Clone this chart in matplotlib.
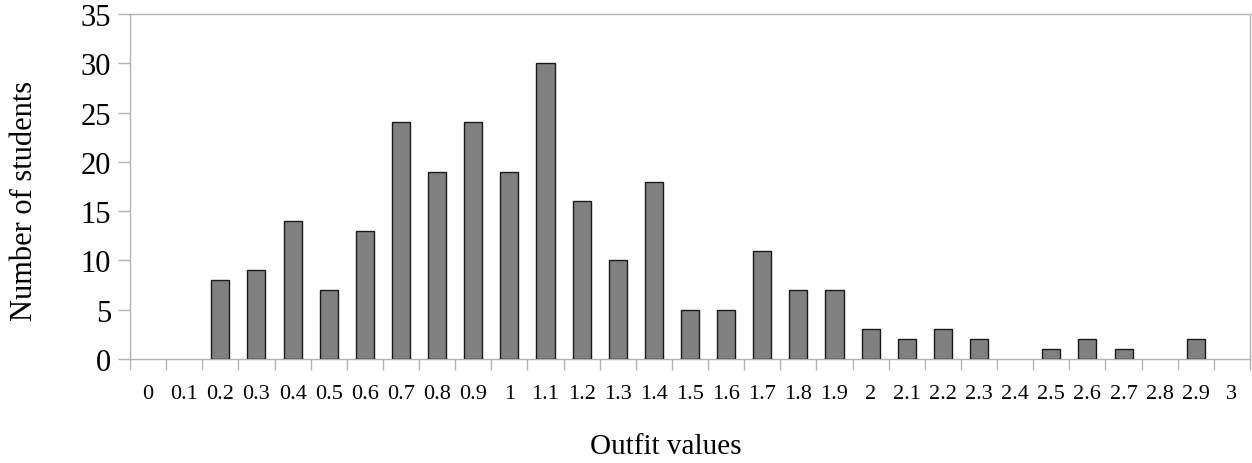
import matplotlib
matplotlib.use("Agg")
import matplotlib.pyplot as plt
import numpy as np

categories = ["0", "0.1", "0.2", "0.3", "0.4", "0.5", "0.6", "0.7", "0.8", "0.9",
              "1", "1.1", "1.2", "1.3", "1.4", "1.5", "1.6", "1.7", "1.8", "1.9",
              "2", "2.1", "2.2", "2.3", "2.4", "2.5", "2.6", "2.7", "2.8", "2.9", "3"]
counts = [0, 0, 8, 9, 14, 7, 13, 24, 19, 24,
          19, 30, 16, 10, 18, 5, 5, 11, 7, 7,
          3, 2, 3, 2, 0, 1, 2, 1, 0, 2, 0]
y_ticks = [0, 5, 10, 15, 20, 25, 30, 35]

plt.rcParams['font.family'] = ['Liberation Serif', 'DejaVu Serif']

W, H = 1252, 464
fig = plt.figure(figsize=(W / 100, H / 100), dpi=100)
ax = fig.add_axes([130 / W, (H - 360) / H, 1120 / W, 345 / H])

x = np.arange(len(categories))
edge_colors = ['#1a1a1a' if c > 0 else 'none' for c in counts]
ax.bar(x, counts, width=0.5, color='#808080', edgecolor=edge_colors, linewidth=1.0, zorder=3)

ax.set_xlim(-0.5, len(categories) - 0.5)
ax.set_ylim(0, 35)
ax.set_yticks(y_ticks)
ax.set_yticklabels([str(v) for v in y_ticks], fontsize=22)
ax.set_xticks(x)
ax.set_xticklabels(categories, fontsize=16)
ax.set_xticks(np.arange(len(categories) + 1) - 0.5, minor=True)

gray = '#b3b3b3'
for s in ax.spines.values():
    s.set_color(gray)
    s.set_linewidth(1.0)
ax.tick_params(axis='x', which='major', length=0, pad=18)
ax.tick_params(axis='x', which='minor', length=8, color=gray, width=1.0)
ax.tick_params(axis='y', which='major', length=8.6, color=gray, width=1.0, pad=5)

fig.text(25 / W, 1 - 201 / H, "Number of students", fontsize=22, rotation=90,
         ha='center', va='center')
fig.text(666 / W, 1 - 447 / H, "Outfit values", fontsize=21, ha='center', va='center')

fig.savefig("out.png", dpi=100)
